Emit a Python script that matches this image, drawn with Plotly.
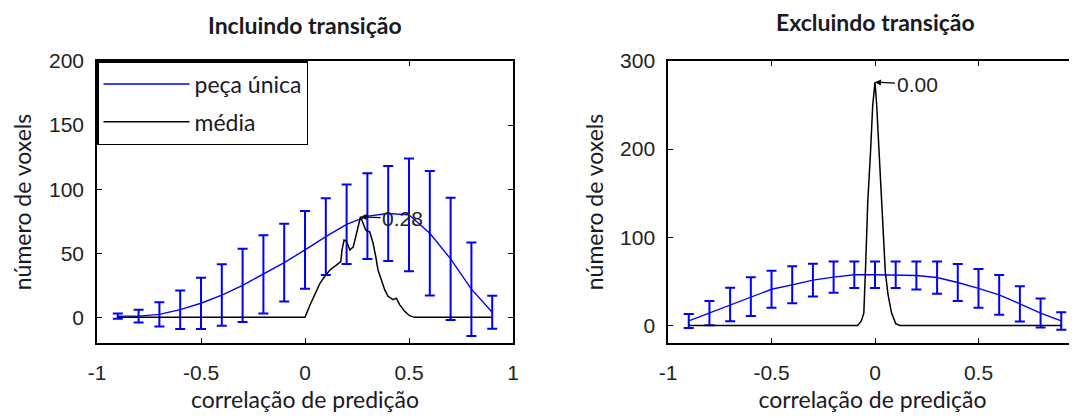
import plotly.graph_objects as go

# ---------------- data ----------------
corr_bins = [-0.9, -0.8, -0.7, -0.6, -0.5, -0.4, -0.3, -0.2, -0.1, 0.0,
             0.1, 0.2, 0.3, 0.4, 0.5, 0.6, 0.7, 0.8, 0.9]

# Incluindo transição
single_incl = [1, 1, 2.3, 6, 11, 17.4, 25, 33.6, 42.7, 52.6,
               63, 72.6, 79, 81, 80, 65.6, 45.6, 22, 4]
single_incl_err = [2, 5, 9.4, 15, 20, 24, 28.6, 30.5, 30.3, 30.3,
                   30, 31, 33.5, 37, 44, 48.6, 47.7, 36.5, 12.8]
mean_incl_x = [-0.9, 0.0, 0.024, 0.048, 0.072, 0.096, 0.12, 0.152, 0.172, 0.178,
               0.188, 0.2, 0.216, 0.232, 0.248, 0.256, 0.267, 0.28, 0.292, 0.311,
               0.327, 0.34, 0.351, 0.367, 0.383, 0.399, 0.423, 0.439, 0.455, 0.479,
               0.503, 0.527, 0.9]
mean_incl_y = [0, 0, 9.7, 18.8, 26.6, 32.3, 37, 40.9, 43.5, 52.6,
               60.4, 59, 52.6, 55, 65.5, 73, 78.5, 73, 68, 66.7,
               58, 47.5, 37, 29.4, 21.6, 16.4, 13.8, 15, 9.9, 4.7,
               1.3, 0, 0]

# Excluindo transição
single_excl = [5, 14, 23.8, 32.5, 41, 46, 51.3, 54.7, 57.4, 57.4,
               57.4, 56.6, 54.3, 48.7, 42, 34.7, 24.5, 14, 5]
single_excl_err = [8, 13.8, 19, 22, 21, 21, 18.5, 17.7, 15, 15,
                   15, 16, 18.3, 21, 22, 22.6, 20, 16.4, 10]
mean_excl_x = [-0.9, -0.084, -0.066, -0.054, -0.045, -0.035, -0.022, -0.011, 0.0, 0.008,
               0.019, 0.03, 0.04, 0.05, 0.063, 0.08, 0.1, 0.12, 0.9]
mean_excl_y = [0, 0, 5, 14, 70, 140, 195, 250, 276, 250,
               200, 152, 100, 60, 35, 14, 2, 0, 0]

peak_incl = (0.267, 78.5, "0.28")
peak_excl = (0.0, 276, "0.00")

titles = ["Incluindo transição", "Excluindo transição"]
x_title = "correlação de predição"
y_title = "número de voxels"
legend_names = ["peça única", "média"]

x_ticks = [-1, -0.5, 0, 0.5, 1]
x_ticklabels = ["-1", "-0.5", "0", "0.5", "1"]
y_ticks_incl = [0, 50, 100, 150, 200]
y_ticks_excl = [0, 100, 200, 300]

# ---------------- style ----------------
BLUE = "#0000ff"
BLACK = "#000000"
TXT = "#1a1a24"
TICKFONT = dict(family="Liberation Sans, Arial, sans-serif", size=21, color="#222222")
LABELFONT = dict(family="Lato, Open Sans, sans-serif", size=23, color=TXT)

fig = go.Figure()

# left panel
fig.add_trace(go.Scatter(
    x=corr_bins, y=single_incl, mode="lines", name=legend_names[0],
    line=dict(color=BLUE, width=1.4),
    error_y=dict(type="data", array=single_incl_err, visible=True,
                 color=BLUE, thickness=2, width=5),
    xaxis="x", yaxis="y", showlegend=True, legendgroup="a"))
fig.add_trace(go.Scatter(
    x=mean_incl_x, y=mean_incl_y, mode="lines", name=legend_names[1],
    line=dict(color=BLACK, width=1.5),
    xaxis="x", yaxis="y", showlegend=True, legendgroup="b"))

# right panel
fig.add_trace(go.Scatter(
    x=corr_bins, y=single_excl, mode="lines", name=legend_names[0],
    line=dict(color=BLUE, width=1.4),
    error_y=dict(type="data", array=single_excl_err, visible=True,
                 color=BLUE, thickness=2, width=5),
    xaxis="x2", yaxis="y2", showlegend=False))
fig.add_trace(go.Scatter(
    x=mean_excl_x, y=mean_excl_y, mode="lines", name=legend_names[1],
    line=dict(color=BLACK, width=1.5),
    xaxis="x2", yaxis="y2", showlegend=False))

axis_common = dict(
    showline=True, linecolor=BLACK, linewidth=1.5,
    ticks="inside", ticklen=5, tickwidth=1.2, tickcolor=BLACK,
    showgrid=False, zeroline=False, tickfont=TICKFONT, automargin=False,
)

# the page body adds an 8 px offset, so the figure is 8 px smaller each way
fig.update_layout(
    template="none",
    width=1069, height=410,
    paper_bgcolor="white", plot_bgcolor="white",
    margin=dict(l=89, r=0, t=53, b=75, autoexpand=False),
    xaxis=dict(axis_common, domain=[0, 0.4245], range=[-1, 1],
               tickvals=x_ticks, ticktext=x_ticklabels, mirror="allticks",
               ticklabelstandoff=10,
               title=dict(text=x_title, font=LABELFONT, standoff=9),
               anchor="y"),
    yaxis=dict(axis_common, domain=[0, 1], range=[-20, 200],
               tickvals=y_ticks_incl, mirror="allticks",
               ticklabelstandoff=7,
               title=dict(text=y_title, font=LABELFONT, standoff=12),
               anchor="x"),
    xaxis2=dict(axis_common, domain=[0.5827, 1], range=[-1, 0.976],
                tickvals=x_ticks, ticktext=x_ticklabels, mirror="allticks",
                ticklabelstandoff=10,
                title=dict(text=x_title, font=LABELFONT, standoff=9),
                anchor="y2"),
    yaxis2=dict(axis_common, domain=[0, 1], range=[-20, 300],
                tickvals=y_ticks_excl, mirror=False,
                ticklabelstandoff=7,
                title=dict(text=y_title, font=LABELFONT, standoff=10),
                anchor="x2"),
    # inward ticks on the (cropped) right edge of the right panel
    yaxis3=dict(overlaying="y2", anchor="x2", side="right", range=[-20, 300],
                tickvals=y_ticks_excl, showticklabels=False, ticks="inside",
                ticklen=5, tickwidth=1.2, tickcolor=BLACK, showline=False,
                showgrid=False, zeroline=False, automargin=False),
    legend=dict(x=0, y=1, xanchor="left", yanchor="top",
                bordercolor=BLACK, borderwidth=1.5, bgcolor="white",
                font=dict(family="Lato, Open Sans, sans-serif", size=23, color=TXT),
                itemwidth=86, tracegroupgap=5),
    showlegend=True,
)

# peak annotations
for (px, py, txt), xr, yr in [(peak_incl, "x", "y"), (peak_excl, "x2", "y2")]:
    fig.add_annotation(x=px, y=py, xref=xr, yref=yr, text=txt,
                       showarrow=True, arrowhead=2, arrowsize=1, arrowwidth=1.2,
                       arrowcolor=BLACK, ax=42, ay=2,
                       font=dict(family="Liberation Sans, Arial, sans-serif", size=21,
                                 color="#222222"))

# panel titles (paper coords relative to plot area: 980 x 282 px)
for txt, xc, yc in zip(titles, [305, 875], [25, 22]):
    fig.add_annotation(x=(xc - 97) / 980, y=1 + (61 - yc) / 282,
                       xref="paper", yref="paper",
                       text="<b>" + txt + "</b>", showarrow=False,
                       xanchor="center", yanchor="middle",
                       font=dict(family="Lato, Open Sans, sans-serif", size=23, color=TXT))

fig.write_html("out.html")
